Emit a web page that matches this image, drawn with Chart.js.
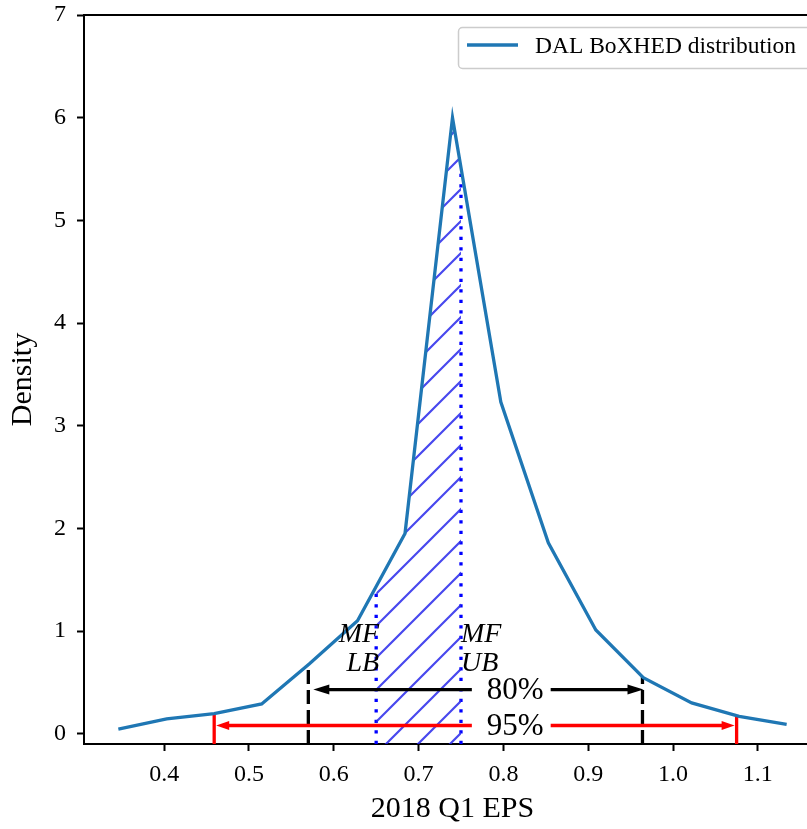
<!DOCTYPE html>
<html>
<head>
<meta charset="utf-8">
<title>DAL BoXHED distribution</title>
<script src="https://cdn.jsdelivr.net/npm/chart.js@4.4.0/dist/chart.umd.min.js"></script>
<style>
  html, body { margin: 0; padding: 0; background: #fff; overflow: hidden; }
  #wrap { width: 807px; height: 829px; overflow: hidden; }
  canvas { display: block; }
</style>
</head>
<body>
<div id="wrap"><canvas id="eps-chart" width="830" height="829"></canvas></div>
<script>
// density of 2018 Q1 EPS
const epsValues = [0.346, 0.403, 0.459, 0.515, 0.571, 0.628, 0.684, 0.740, 0.797, 0.853, 0.909, 0.965, 1.022, 1.078, 1.134];
const densityValues = [0.045, 0.145, 0.195, 0.29, 0.68, 1.10, 1.95, 6.0, 3.23, 1.86, 1.01, 0.545, 0.30, 0.17, 0.09];

// axis ticks
const xTicks = [0.4, 0.5, 0.6, 0.7, 0.8, 0.9, 1.0, 1.1];
const yTicks = [0, 1, 2, 3, 4, 5, 6, 7];
const xRange = [0.3055, 1.1745];
const yRange = [-0.1, 7];

// intervals
const mfBounds = [0.65, 0.75];
const ci80 = [0.570, 0.964];
const ci95 = [0.459, 1.075];
const arrowLevels = [0.43, 0.08];
const pctLabels = ["80%", "95%"];
const pctLabelX = 0.814;
const mfLabels = [["MF", "LB"], ["MF", "UB"]];

const SERIF = "'Liberation Serif', 'Times New Roman', serif";
Chart.defaults.font.family = SERIF;
Chart.defaults.color = "#000";

// linear interpolation on the density curve
function densityAt(x) {
    for (let i = 0; i < epsValues.length - 1; i++) {
        if (x >= epsValues[i] && x <= epsValues[i + 1]) {
            const t = (x - epsValues[i]) / (epsValues[i + 1] - epsValues[i]);
            return densityValues[i] + t * (densityValues[i + 1] - densityValues[i]);
        }
    }
    return 0;
}

// "/" hatch, 32px period
function hatchPattern() {
    const c = document.createElement("canvas");
    c.width = 32; c.height = 32;
    const g = c.getContext("2d");
    g.strokeStyle = "rgba(40,40,235,0.85)";
    g.lineWidth = 2.2;
    g.beginPath();
    g.moveTo(-4, 14); g.lineTo(14, -4);
    g.moveTo(-4, 46); g.lineTo(46, -4);
    g.moveTo(28, 46); g.lineTo(46, 28);
    g.stroke();
    return g.createPattern(c, "repeat");
}

function vline(x, color, width, dash) {
    return {
        data: [{ x: x, y: yRange[0] }, { x: x, y: densityAt(x) }],
        borderColor: color,
        borderWidth: width,
        borderDash: dash,
        borderCapStyle: "butt",
        pointRadius: 0,
        fill: false,
    };
}

const curvePoints = epsValues.map((v, i) => ({ x: v, y: densityValues[i] }));
const mfPoints = [{ x: mfBounds[0], y: densityAt(mfBounds[0]) }]
    .concat(curvePoints.filter(p => p.x > mfBounds[0] && p.x < mfBounds[1]))
    .concat([{ x: mfBounds[1], y: densityAt(mfBounds[1]) }]);

// arrows, labels, frame and legend
const annotations = {
    id: "annotations",
    afterDatasetsDraw(chart) {
        const { ctx, chartArea: area, scales: { x, y } } = chart;
        ctx.save();

        ctx.strokeStyle = "#000";
        ctx.lineWidth = 2;
        ctx.beginPath();
        ctx.moveTo(area.left, area.top);
        ctx.lineTo(area.right, area.top);
        ctx.lineTo(area.right, area.bottom);
        ctx.stroke();

        function arrow(xa, xb, yp, color, len, half) {
            ctx.strokeStyle = color;
            ctx.fillStyle = color;
            ctx.lineWidth = 3.3;
            ctx.beginPath();
            ctx.moveTo(xa + len * 0.7, yp);
            ctx.lineTo(xb - len * 0.7, yp);
            ctx.stroke();
            ctx.beginPath();
            ctx.moveTo(xa, yp); ctx.lineTo(xa + len, yp - half); ctx.lineTo(xa + len, yp + half);
            ctx.closePath(); ctx.fill();
            ctx.beginPath();
            ctx.moveTo(xb, yp); ctx.lineTo(xb - len, yp - half); ctx.lineTo(xb - len, yp + half);
            ctx.closePath(); ctx.fill();
        }
        arrow(x.getPixelForValue(ci80[0]) + 5, x.getPixelForValue(ci80[1]) + 1, y.getPixelForValue(arrowLevels[0]), "#000", 16, 5);
        arrow(x.getPixelForValue(ci95[0]) + 2, x.getPixelForValue(ci95[1]) - 2, y.getPixelForValue(arrowLevels[1]), "#ff0000", 13, 4.5);

        ctx.font = "31px " + SERIF;
        ctx.textAlign = "center";
        ctx.textBaseline = "middle";
        pctLabels.forEach((t, i) => {
            const cx = x.getPixelForValue(pctLabelX);
            const cy = y.getPixelForValue(arrowLevels[i]);
            const w = ctx.measureText(t).width;
            ctx.fillStyle = "#fff";
            ctx.fillRect(cx - w / 2 - 15, cy - 12, w + 22, 24);
            ctx.fillStyle = "#000";
            ctx.fillText(t, cx, cy + 1);
        });

        ctx.font = "italic 28px " + SERIF;
        ctx.textBaseline = "alphabetic";
        const baseY = y.getPixelForValue(0.89);
        mfLabels.forEach((lines, i) => {
            const px = x.getPixelForValue(mfBounds[i]);
            ctx.textAlign = i === 0 ? "right" : "left";
            lines.forEach((t, j) => ctx.fillText(t, i === 0 ? px + 3 : px, baseY + j * 29));
        });
        ctx.restore();
    },
    afterDraw(chart) {
        const ctx = chart.ctx;
        const ds = chart.data.datasets[0];
        ctx.save();
        ctx.fillStyle = "rgba(255,255,255,0.8)";
        ctx.strokeStyle = "#cccccc";
        ctx.lineWidth = 1.5;
        ctx.beginPath();
        ctx.roundRect(458.5, 27.5, 360, 41, 4);
        ctx.fill();
        ctx.stroke();
        ctx.strokeStyle = ds.borderColor;
        ctx.lineWidth = 3.3;
        ctx.beginPath();
        ctx.moveTo(467, 45);
        ctx.lineTo(518, 45);
        ctx.stroke();
        ctx.fillStyle = "#000";
        ctx.font = "23.5px " + SERIF;
        ctx.textBaseline = "middle";
        ctx.fillText(ds.label, 535, 47);
        ctx.restore();
    }
};

const ctx = document.getElementById("eps-chart").getContext("2d");

new Chart(ctx, {
    type: "line",
    data: {
        datasets: [
            {
                label: "DAL BoXHED distribution",
                data: curvePoints,
                borderColor: "#1f77b4",
                borderWidth: 3.3,
                pointRadius: 0,
                fill: false,
                tension: 0,
            },
            {
                label: "MF",
                data: mfPoints,
                borderColor: "rgba(60,60,255,0.8)",
                borderWidth: 1,
                backgroundColor: hatchPattern(),
                pointRadius: 0,
                fill: { value: yRange[0] },
            },
            vline(mfBounds[0], "#0000ff", 3.3, [3.3, 7.2]),
            vline(mfBounds[1], "#0000ff", 3.3, [3.3, 7.2]),
            vline(ci80[0], "#000", 3.3, [14, 6]),
            vline(ci80[1], "#000", 3.3, [14, 6]),
            vline(ci95[0], "#ff0000", 3.3, []),
            vline(ci95[1], "#ff0000", 3.3, []),
        ],
    },
    options: {
        responsive: false,
        animation: false,
        devicePixelRatio: 1,
        layout: { padding: { top: 15, right: 9, left: 0, bottom: 0 } },
        plugins: {
            legend: { display: false },
            tooltip: { enabled: false },
        },
        scales: {
            x: {
                type: "linear",
                min: xRange[0],
                max: xRange[1],
                afterBuildTicks: s => { s.ticks = xTicks.map(v => ({ value: v })); },
                afterFit: s => { s.height = 85; s.paddingLeft = 0; s.paddingRight = 0; },
                ticks: {
                    font: { size: 24 },
                    padding: 9,
                    callback: v => v.toFixed(1),
                },
                grid: { drawOnChartArea: false, tickLength: 7, tickWidth: 2, tickColor: "#000" },
                border: { color: "#000", width: 2 },
                title: { display: true, text: "2018 Q1 EPS", font: { size: 30 }, padding: { bottom: 2 } },
            },
            y: {
                type: "linear",
                min: yRange[0],
                max: yRange[1],
                afterBuildTicks: s => { s.ticks = yTicks.map(v => ({ value: v })); },
                afterFit: s => { s.width = 84; s.paddingTop = 0; s.paddingBottom = 0; },
                ticks: { font: { size: 24 }, padding: 11 },
                grid: { drawOnChartArea: false, tickLength: 7, tickWidth: 2, tickColor: "#000" },
                border: { color: "#000", width: 2 },
                title: { display: true, text: "Density", font: { size: 30 }, padding: { top: 5 } },
            },
        },
    },
    plugins: [annotations],
});
</script>
</body>
</html>
